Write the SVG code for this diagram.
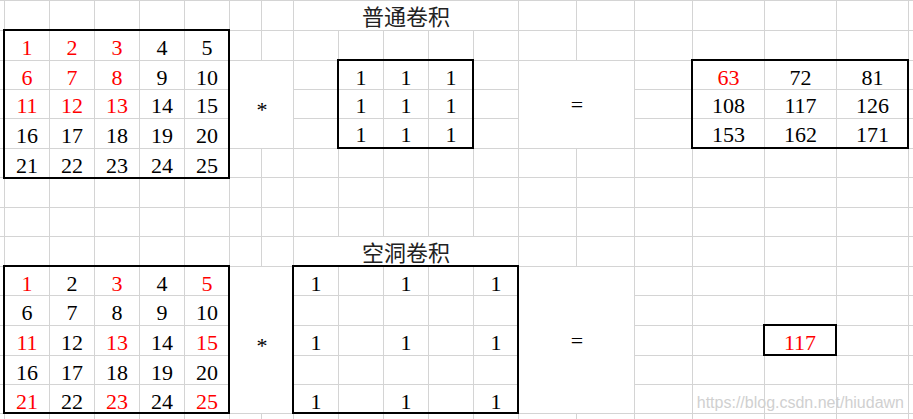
<svg xmlns="http://www.w3.org/2000/svg" width="913" height="419" viewBox="0 0 913 419">
<style>
.g{stroke:#d4d4d4;stroke-width:1;fill:none}
.box{stroke:#000;stroke-width:2;fill:none}
.m{fill:#fff}
.n{font-family:"Liberation Serif","Times New Roman",serif;font-size:22px;text-anchor:middle;fill:#000}
.r{fill:#ff0000}
.t{font-family:"Noto Sans CJK SC","Noto Sans",sans-serif;font-size:22px;text-anchor:middle;fill:#222}
.wm{font-family:"Liberation Sans",Arial,sans-serif;font-size:16px;fill:#d0d0d0}
</style>
<rect width="913" height="419" fill="#fff"/>
<g id="grid">
<path class="g" d="M4.5 0V419M49.5 0V419M94.5 0V419M139.5 0V419M184.5 0V419M229.5 0V419M261.5 0V419M293.5 0V419M338.5 0V419M383.5 0V419M428.5 0V419M473.5 0V419M518.5 0V419M576.5 0V419M634.5 0V419M692.5 0V419M764.5 0V419M836.5 0V419M908.5 0V419"/>
<path class="g" d="M0 0.5H913M0 30.5H913M0 60.5H913M0 89.5H913M0 118.5H913M0 148.5H913M0 177.5H913M0 207.5H913M0 236.5H913M0 266.5H913M0 295.5H913M0 325.5H913M0 355.5H913M0 384.5H913M0 413.5H913"/>
<rect class="m" x="294" y="1" width="224" height="29"/>
<rect class="m" x="230" y="61" width="63" height="87"/>
<rect class="m" x="519" y="61" width="115" height="87"/>
<rect class="m" x="294" y="237" width="224" height="29"/>
<rect class="m" x="230" y="267" width="63" height="146"/>
<rect class="m" x="519" y="267" width="115" height="146"/>
</g>
<g id="title-normal"><text class="t" x="406" y="25">普通卷积</text></g>
<g id="input-normal">
<rect class="box" x="4" y="30" width="225" height="148"/>
<text class="n r" x="27" y="55">1</text><text class="n r" x="72" y="55">2</text><text class="n r" x="117" y="55">3</text><text class="n" x="162" y="55">4</text><text class="n" x="207" y="55">5</text>
<text class="n r" x="27" y="85">6</text><text class="n r" x="72" y="85">7</text><text class="n r" x="117" y="85">8</text><text class="n" x="162" y="85">9</text><text class="n" x="207" y="85">10</text>
<text class="n r" x="27" y="113.3">11</text><text class="n r" x="72" y="113.3">12</text><text class="n r" x="117" y="113.3">13</text><text class="n" x="162" y="113.3">14</text><text class="n" x="207" y="113.3">15</text>
<text class="n" x="27" y="142.7">16</text><text class="n" x="72" y="142.7">17</text><text class="n" x="117" y="142.7">18</text><text class="n" x="162" y="142.7">19</text><text class="n" x="207" y="142.7">20</text>
<text class="n" x="27" y="172.7">21</text><text class="n" x="72" y="172.7">22</text><text class="n" x="117" y="172.7">23</text><text class="n" x="162" y="172.7">24</text><text class="n" x="207" y="172.7">25</text>
</g>
<g id="op-mul-normal"><text class="n" x="262" y="117">*</text></g>
<g id="kernel-normal">
<rect class="box" x="338" y="60" width="135" height="88"/>
<text class="n" x="361" y="85">1</text><text class="n" x="406" y="85">1</text><text class="n" x="451" y="85">1</text>
<text class="n" x="361" y="113.3">1</text><text class="n" x="406" y="113.3">1</text><text class="n" x="451" y="113.3">1</text>
<text class="n" x="361" y="141.7">1</text><text class="n" x="406" y="141.7">1</text><text class="n" x="451" y="141.7">1</text>
</g>
<g id="op-eq-normal"><text class="n" x="577" y="111.7">=</text></g>
<g id="result-normal">
<rect class="box" x="692" y="60" width="216" height="88"/>
<text class="n r" x="728.5" y="85">63</text><text class="n" x="800.5" y="85">72</text><text class="n" x="872.5" y="85">81</text>
<text class="n" x="728.5" y="113.3">108</text><text class="n" x="800.5" y="113.3">117</text><text class="n" x="872.5" y="113.3">126</text>
<text class="n" x="728.5" y="141.7">153</text><text class="n" x="800.5" y="141.7">162</text><text class="n" x="872.5" y="141.7">171</text>
</g>
<g id="title-dilated"><text class="t" x="406" y="261">空洞卷积</text></g>
<g id="input-dilated">
<rect class="box" x="4" y="266" width="225" height="147"/>
<text class="n r" x="27" y="290.7">1</text><text class="n" x="72" y="290.7">2</text><text class="n r" x="117" y="290.7">3</text><text class="n" x="162" y="290.7">4</text><text class="n r" x="207" y="290.7">5</text>
<text class="n" x="27" y="320">6</text><text class="n" x="72" y="320">7</text><text class="n" x="117" y="320">8</text><text class="n" x="162" y="320">9</text><text class="n" x="207" y="320">10</text>
<text class="n r" x="27" y="350">11</text><text class="n" x="72" y="350">12</text><text class="n r" x="117" y="350">13</text><text class="n" x="162" y="350">14</text><text class="n r" x="207" y="350">15</text>
<text class="n" x="27" y="380">16</text><text class="n" x="72" y="380">17</text><text class="n" x="117" y="380">18</text><text class="n" x="162" y="380">19</text><text class="n" x="207" y="380">20</text>
<text class="n r" x="27" y="409.3">21</text><text class="n" x="72" y="409.3">22</text><text class="n r" x="117" y="409.3">23</text><text class="n" x="162" y="409.3">24</text><text class="n r" x="207" y="409.3">25</text>
</g>
<g id="op-mul-dilated"><text class="n" x="262" y="353.3">*</text></g>
<g id="kernel-dilated">
<rect class="box" x="293" y="266" width="225" height="147"/>
<text class="n" x="316" y="290.7">1</text><text class="n" x="406" y="290.7">1</text><text class="n" x="496" y="290.7">1</text>
<text class="n" x="316" y="350">1</text><text class="n" x="406" y="350">1</text><text class="n" x="496" y="350">1</text>
<text class="n" x="316" y="409.3">1</text><text class="n" x="406" y="409.3">1</text><text class="n" x="496" y="409.3">1</text>
</g>
<g id="op-eq-dilated"><text class="n" x="577" y="347.7">=</text></g>
<g id="result-dilated">
<rect class="box" x="764" y="325" width="72" height="30"/>
<text class="n r" x="800" y="350">117</text>
</g>
<text class="wm" x="904" y="407.5" text-anchor="end">https://blog.csdn.net/hiudawn</text>
</svg>
